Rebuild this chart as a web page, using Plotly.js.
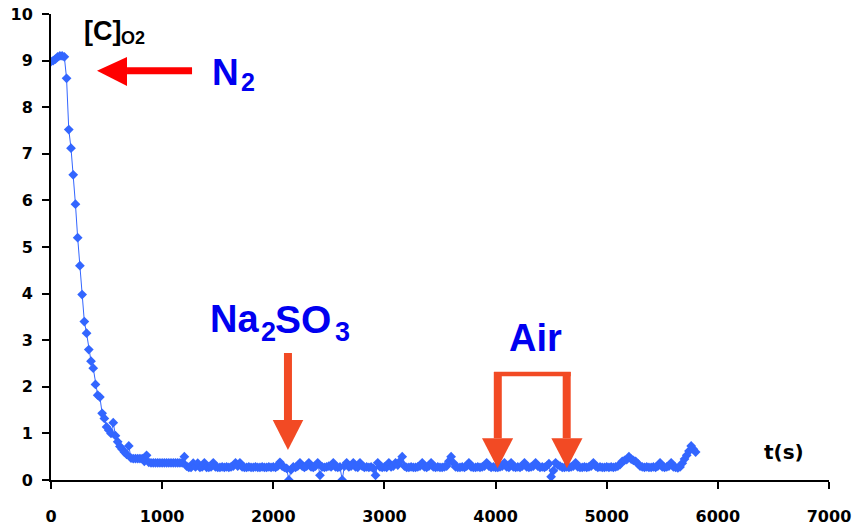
<!DOCTYPE html>
<html>
<head>
<meta charset="utf-8">
<script src="https://cdn.plot.ly/plotly-3.0.1.min.js"></script>
<style>
  html, body { margin: 0; padding: 0; background: #ffffff; }
  #chart { width: 854px; height: 528px; }
</style>
</head>
<body>
<div id="chart"></div>
<script>
// Dissolved oxygen concentration [C]O2, sampled every 20 s from t = 0.
var sampleStart = 0;
var sampleStep = 20;

// N2 purge: t = 0 ... 1200 s
var concPurge = [
  8.98, 9.00, 9.03, 9.08, 9.10, 9.10, 9.08, 8.62, 7.52, 7.12,
  6.55, 5.92, 5.20, 4.60, 3.98, 3.40, 3.15, 2.80, 2.55, 2.40,
  2.05, 1.82, 1.78, 1.43, 1.32, 1.14, 1.07, 1.00, 1.23, 0.95,
  0.82, 0.72, 0.66, 0.60, 0.55, 0.73, 0.47, 0.46, 0.46, 0.46,
  0.46, 0.46, 0.40, 0.53, 0.38, 0.37, 0.37, 0.37, 0.37, 0.37,
  0.37, 0.37, 0.37, 0.37, 0.37, 0.37, 0.37, 0.37, 0.37, 0.37,
  0.50
];

// Plateau: t = 1220 ... 5620 s
var concPlateau = [
  0.30, 0.27, 0.27, 0.36, 0.28, 0.36, 0.27, 0.28, 0.37, 0.27,
  0.27, 0.28, 0.37, 0.28, 0.27, 0.27, 0.28, 0.27, 0.28, 0.27,
  0.28, 0.30, 0.37, 0.30, 0.37, 0.28, 0.27, 0.27, 0.28, 0.27,
  0.27, 0.28, 0.27, 0.27, 0.28, 0.27, 0.27, 0.28, 0.27, 0.28,
  0.27, 0.30, 0.38, 0.30, 0.27, 0.25, 0.00, 0.22, 0.28, 0.27,
  0.30, 0.37, 0.30, 0.27, 0.30, 0.37, 0.28, 0.27, 0.30, 0.37,
  0.10, 0.28, 0.27, 0.28, 0.30, 0.28, 0.37, 0.28, 0.27, 0.28,
  0.00, 0.30, 0.37, 0.28, 0.30, 0.37, 0.28, 0.27, 0.37, 0.30,
  0.27, 0.28, 0.27, 0.28, 0.25, 0.10, 0.37, 0.28, 0.27, 0.28,
  0.27, 0.37, 0.28, 0.30, 0.37, 0.32, 0.40, 0.50, 0.30, 0.27,
  0.27, 0.28, 0.27, 0.27, 0.28, 0.30, 0.37, 0.28, 0.27, 0.30,
  0.37, 0.28, 0.27, 0.28, 0.27, 0.27, 0.28, 0.30, 0.40, 0.50,
  0.37, 0.28, 0.27, 0.27, 0.28, 0.27, 0.30, 0.37, 0.28, 0.27,
  0.27, 0.28, 0.27, 0.28, 0.30, 0.37, 0.30, 0.27, 0.28, 0.27,
  0.27, 0.28, 0.30, 0.37, 0.28, 0.27, 0.37, 0.28, 0.27, 0.28,
  0.27, 0.30, 0.37, 0.28, 0.27, 0.28, 0.30, 0.37, 0.30, 0.27,
  0.28, 0.27, 0.30, 0.35, 0.07, 0.20, 0.37, 0.32, 0.30, 0.27,
  0.27, 0.28, 0.27, 0.28, 0.30, 0.37, 0.28, 0.27, 0.27, 0.28,
  0.27, 0.28, 0.30, 0.37, 0.30, 0.27, 0.28, 0.27, 0.27, 0.28,
  0.27, 0.28, 0.27, 0.28, 0.30, 0.33, 0.40, 0.42, 0.44, 0.50,
  0.45, 0.42, 0.40, 0.35, 0.30, 0.28, 0.27, 0.28, 0.27, 0.27,
  0.28, 0.27, 0.30, 0.37, 0.28, 0.27, 0.28, 0.30, 0.37, 0.28,
  0.27
];

// Final rise: t = 5640 ... 5800 s
var concTail = [0.26, 0.28, 0.36, 0.45, 0.53, 0.62, 0.73, 0.66, 0.60];

// Axis ticks
var xTicks = [0, 1000, 2000, 3000, 4000, 5000, 6000, 7000];
var yTicks = [0, 1, 2, 3, 4, 5, 6, 7, 8, 9, 10];

var conc = concPurge.concat(concPlateau, concTail);

var blue = '#3366ff';
var arrowRed = '#ff0000';
var arrowOrange = '#f24a24';
var labelBlue = '#0000f0';

var trace = {
  type: 'scatter',
  mode: 'lines+markers',
  x0: sampleStart,
  dx: sampleStep,
  y: conc,
  line: { color: blue, width: 1 },
  marker: { symbol: 'diamond', size: 7.5, color: blue },
  hoverinfo: 'x+y',
  showlegend: false
};

function seg(x0, y0, x1, y1, color, w) {
  return { type: 'line', xref: 'x', yref: 'y', x0: x0, y0: y0, x1: x1, y1: y1,
           line: { color: color, width: w } };
}
function head(path, color) {
  return { type: 'path', xref: 'x', yref: 'y', path: path,
           fillcolor: color, line: { width: 0 } };
}

var shapes = [
  // N2 arrow (pointing left)
  seg(684, 8.783, 1269, 8.783, arrowRed, 7),
  head('M 414,8.783 L 684,9.077 L 684,8.455 Z', arrowRed),
  // Na2SO3 arrow
  seg(2132, 2.725, 2132, 1.288, arrowOrange, 8),
  head('M 1995,1.288 L 2270,1.288 L 2132,0.644 Z', arrowOrange),
  // Air bracket with two arrows
  seg(3986, 2.275, 4676, 2.275, arrowOrange, 4.5),
  seg(4020, 2.318, 4020, 0.895, arrowOrange, 8),
  seg(4640, 2.318, 4640, 0.895, arrowOrange, 8),
  head('M 3878,0.895 L 4158,0.895 L 4018,0.251 Z', arrowOrange),
  head('M 4502,0.895 L 4782,0.895 L 4642,0.251 Z', arrowOrange)
];

var bigFont = 'Liberation Sans, Arial, sans-serif';

// Text label: main pieces and their subscripts are placed as separate runs
function label(x, y, text, size, color, family) {
  return { x: x, y: y, xref: 'x', yref: 'y', xanchor: 'left', yanchor: 'middle',
           text: '<b>' + text + '</b>', showarrow: false, borderpad: 0,
           font: { family: family || bigFont, size: size, color: color } };
}

var annotations = [
  label(290, 9.64, '[C]', 27, '#000000'),
  label(622, 9.48, 'O2', 18, '#000000'),
  label(1440, 8.74, 'N', 37, labelBlue),
  label(1700, 8.55, '2', 25, labelBlue),
  label(1420, 3.45, 'Na', 38, labelBlue),
  label(1876, 3.17, '2', 27, labelBlue),
  label(2005, 3.45, 'SO', 39, labelBlue),
  label(2545, 3.17, '3', 27, labelBlue),
  label(4112, 3.05, 'Air', 38, labelBlue),
  label(6410, 0.6, 't(s)', 20, '#000000', 'DejaVu Sans, sans-serif')
];

var tickFont = { family: 'DejaVu Sans, sans-serif', size: 16, color: '#000000', weight: 'bold' };

var layout = {
  width: 854,
  height: 528,
  margin: { l: 51, r: 25, t: 14, b: 48, pad: 0 },
  paper_bgcolor: '#ffffff',
  plot_bgcolor: '#ffffff',
  font: { family: bigFont, color: '#000000' },
  xaxis: {
    range: [0, 7000],
    tickmode: 'array',
    tickvals: xTicks,
    ticktext: xTicks.map(String),
    showgrid: false,
    zeroline: false,
    showline: true,
    linecolor: '#000000',
    linewidth: 2,
    ticks: 'outside',
    ticklen: 7,
    tickwidth: 2,
    tickcolor: '#000000',
    tickfont: tickFont,
    ticklabelstandoff: 14,
    automargin: false,
    fixedrange: true
  },
  yaxis: {
    range: [0, 10],
    tickmode: 'array',
    tickvals: yTicks,
    ticktext: yTicks.map(String),
    showgrid: false,
    zeroline: false,
    showline: true,
    linecolor: '#000000',
    linewidth: 2,
    ticks: 'outside',
    ticklen: 7,
    tickwidth: 2,
    tickcolor: '#000000',
    tickfont: tickFont,
    ticklabelstandoff: 6,
    automargin: false,
    fixedrange: true
  },
  shapes: shapes,
  annotations: annotations,
  showlegend: false
};

Plotly.newPlot('chart', [trace], layout, { displayModeBar: false, staticPlot: true });
</script>
</body>
</html>
